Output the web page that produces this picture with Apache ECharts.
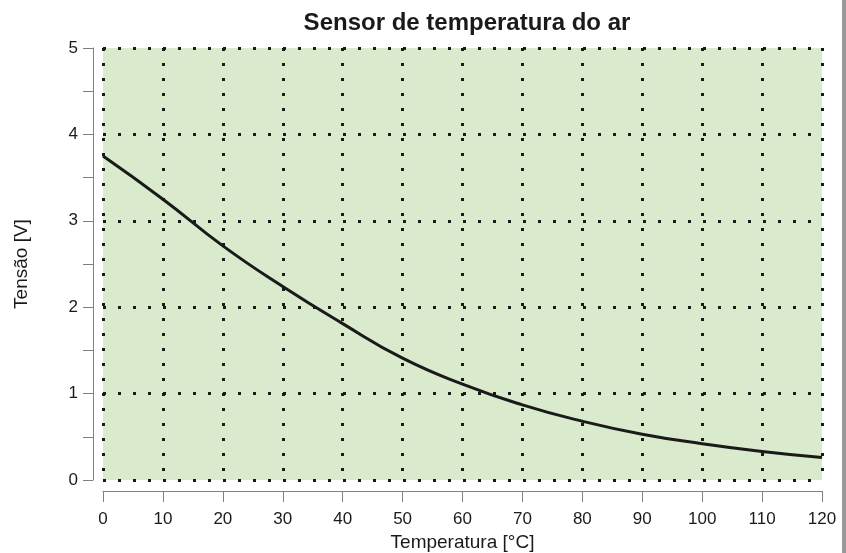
<!DOCTYPE html>
<html>
<head>
<meta charset="utf-8">
<script src="https://cdn.jsdelivr.net/npm/echarts@6/dist/echarts.min.js"></script>
<style>
  html, body { margin: 0; padding: 0; background: #fff; }
  #chart { width: 846px; height: 553px; }
</style>
</head>
<body>
<div id="chart"></div>
<script>
// temperatura [°C] e tensão [V]
var temperatures = [0, 10, 20, 30, 40, 50, 60, 70, 80, 90, 100, 110, 120]
var voltages = [3.75, 3.25, 2.71, 2.24, 1.81, 1.41, 1.11, 0.87, 0.68, 0.53, 0.42, 0.33, 0.26]

var points = temperatures.map(function (t, i) { return [t, voltages[i]] })

var chart = echarts.init(document.getElementById('chart'))
var font = 'Liberation Sans, Arial, sans-serif'
var dotted = { color: '#1a1a1a', width: 3, type: [3, 12] }

chart.setOption({
  animation: false,
  textStyle: { fontFamily: font },
  title: {
    text: 'Sensor de temperatura do ar',
    left: 462,
    textAlign: 'center',
    top: 6,
    textStyle: { fontSize: 24, fontWeight: 'bold', color: '#1a1a1a', fontFamily: font }
  },
  grid: {
    left: 103,
    right: 24,
    top: 48,
    bottom: 73,
    outerBoundsMode: 'none',
    show: true,
    backgroundColor: '#d9eacd',
    borderWidth: 0
  },
  xAxis: {
    type: 'value',
    min: 0,
    max: 120,
    interval: 10,
    offset: 11,
    name: 'Temperatura [°C]',
    nameLocation: 'middle',
    nameGap: 42,
    nameTextStyle: { fontSize: 19, color: '#1a1a1a' },
    axisLine: { show: true, onZero: false, lineStyle: { color: '#808080', width: 1 } },
    axisTick: { show: true, length: 11, lineStyle: { color: '#808080' } },
    axisLabel: { fontSize: 17, color: '#1a1a1a', margin: 20 },
    splitLine: { show: true, lineStyle: dotted }
  },
  yAxis: {
    type: 'value',
    min: 0,
    max: 5,
    interval: 1,
    offset: 10,
    name: 'Tensão [V]',
    nameLocation: 'middle',
    nameGap: 62,
    nameTextStyle: { fontSize: 19, color: '#1a1a1a' },
    axisLine: { show: true, onZero: false, lineStyle: { color: '#808080', width: 1 } },
    axisTick: { show: true, length: 10, lineStyle: { color: '#808080' } },
    minorTick: { show: true, splitNumber: 2, length: 10, lineStyle: { color: '#808080' } },
    axisLabel: { fontSize: 17, color: '#1a1a1a', margin: 15 },
    splitLine: { show: true, lineStyle: dotted }
  },
  graphic: [{
    type: 'rect',
    shape: { x: 842, y: 0, width: 4, height: 553 },
    style: { fill: '#9a9a9a' }
  }],
  series: [{
    type: 'line',
    data: points,
    smooth: true,
    showSymbol: false,
    lineStyle: { color: '#1a1a1a', width: 3 }
  }]
})
</script>
</body>
</html>
